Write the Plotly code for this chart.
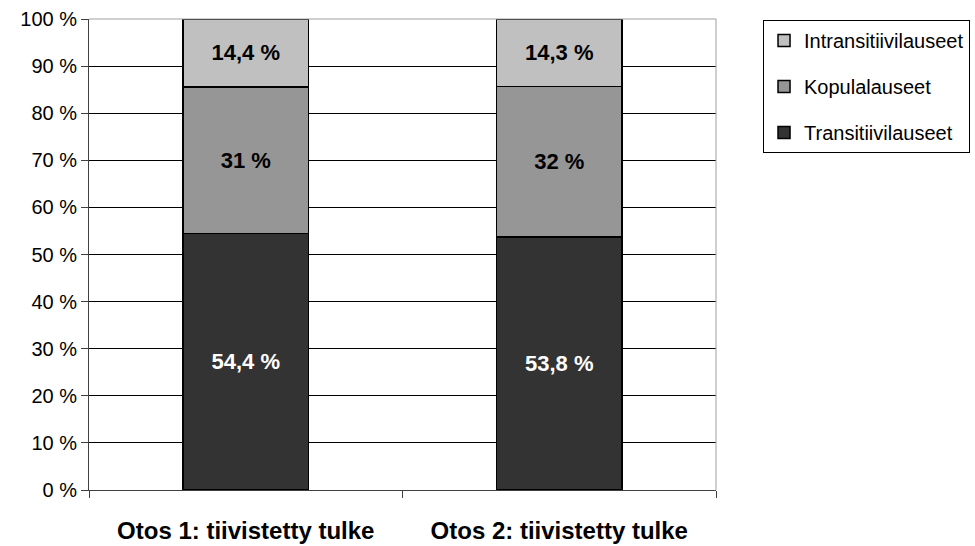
import plotly.graph_objects as go

# Sample labels and percentage shares per clause type
categories = ["Otos 1: tiivistetty tulke", "Otos 2: tiivistetty tulke"]
transitiivi = [54.4, 53.8]
kopula = [31, 32]
intransitiivi = [14.4, 14.3]
y_ticks = [0, 10, 20, 30, 40, 50, 60, 70, 80, 90, 100]

FONT = "Liberation Sans, Arial, sans-serif"


def fmt(v):
    s = ("%g" % v).replace(".", ",")
    return s + " %"


# (name, values, fill, label colour, legend rank)
series = [
    ("Transitiivilauseet", transitiivi, "#333333", "white", 3),
    ("Kopulalauseet", kopula, "#969696", "black", 2),
    ("Intransitiivilauseet", intransitiivi, "#C0C0C0", "black", 1),
]

fig = go.Figure()
for name, vals, col, tcol, rank in series:
    fig.add_trace(go.Bar(
        x=categories, y=vals, name=name,
        text=[fmt(v) for v in vals], textposition="inside",
        insidetextanchor="middle", textangle=0,
        textfont=dict(family=FONT, size=22, color=tcol, weight="bold"),
        marker=dict(color=col, line=dict(color="black", width=1.5)),
        width=0.4, legendgroup=name, legendrank=rank,
    ))

fig.update_layout(
    barmode="stack", barnorm="percent",
    width=975, height=546,
    margin=dict(l=89, r=259, t=19, b=56, autoexpand=False),
    paper_bgcolor="white", plot_bgcolor="white",
    font=dict(family=FONT, size=20, color="black"),
    legend=dict(
        x=1.075, y=0.998, xanchor="left", yanchor="top",
        traceorder="grouped", tracegroupgap=17,
        bordercolor="black", borderwidth=1, bgcolor="white",
        font=dict(family=FONT, size=20, color="black"),
        itemwidth=30,
    ),
    showlegend=True,
)

fig.update_yaxes(
    range=[0, 100], tickvals=y_ticks, ticktext=[f"{t} %" for t in y_ticks],
    showgrid=True, gridcolor="black", gridwidth=1, automargin=False,
    zeroline=False, showline=True, linecolor="#404040", linewidth=1,
    ticks="outside", ticklen=7, tickcolor="#404040",
    tickfont=dict(family=FONT, size=20, color="black"),
)
fig.update_xaxes(
    type="category", tickson="boundaries", automargin=False,
    showgrid=False, zeroline=False, showline=True, linecolor="#404040",
    linewidth=1, ticks="outside", ticklen=7, tickcolor="#404040",
    ticklabelstandoff=19,
    tickfont=dict(family=FONT, size=24, color="black", weight="bold"),
)

# Plot-area frame on the top and right sides
fig.add_shape(type="line", xref="paper", yref="paper", x0=0, x1=1, y0=1, y1=1,
              line=dict(color="#a0a0a0", width=1))
fig.add_shape(type="line", xref="paper", yref="paper", x0=1, x1=1, y0=0, y1=1,
              line=dict(color="#a0a0a0", width=1))

fig.write_html("out.html")
